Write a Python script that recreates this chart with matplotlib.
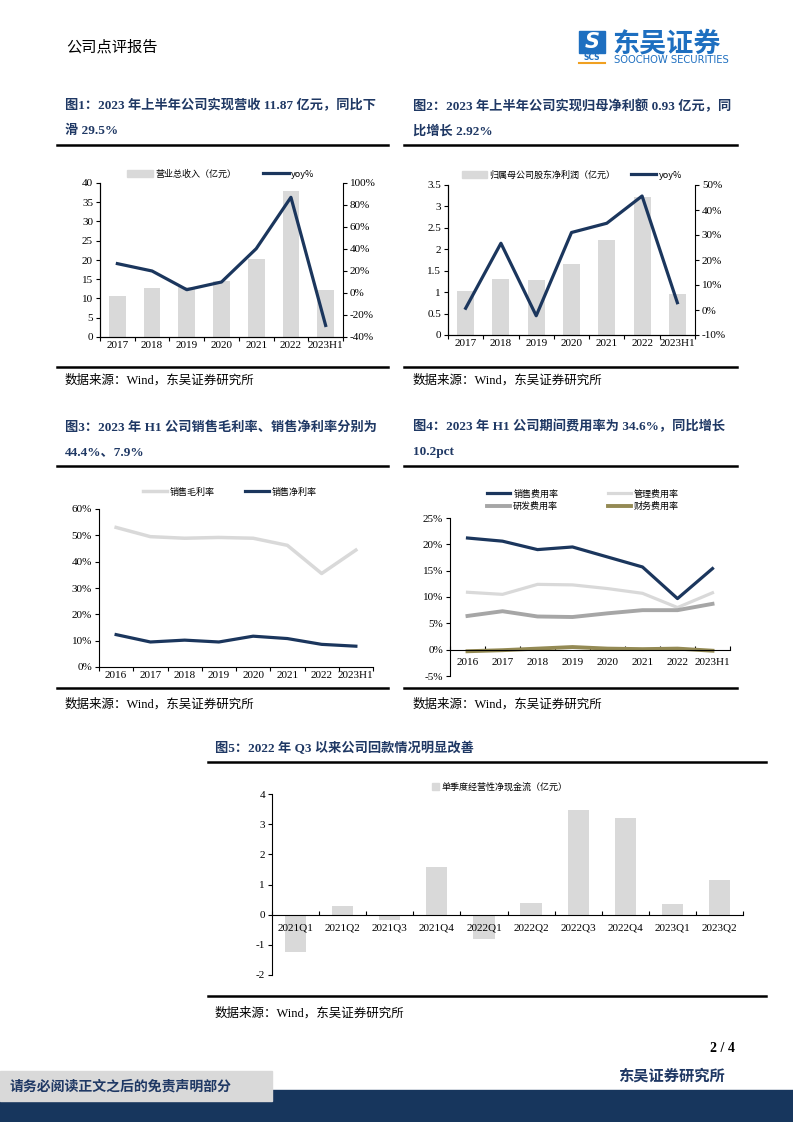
import numpy as np
from matplotlib import pyplot as plt
from matplotlib.lines import Line2D
from matplotlib.patches import Rectangle, Patch
from matplotlib.ticker import FuncFormatter

W, H = 793, 1122
NAVY = '#1f3864'
LINE = '#1b365d'
GREY = '#d9d9d9'
SERIF = ['Liberation Serif', 'Noto Sans CJK SC']
CJK = ['Noto Sans CJK SC', 'DejaVu Sans']
plt.rcParams['font.family'] = SERIF
plt.rcParams['axes.unicode_minus'] = False

# ---- data ----
years1 = ['2017', '2018', '2019', '2020', '2021', '2022', '2023H1']
revenue = [10.6, 12.7, 13.0, 14.6, 20.3, 38.0, 12.1]
revenue_yoy = [26.7, 20.0, 3.0, 10.0, 40.3, 87.0, -29.5]
profit = [1.03, 1.31, 1.28, 1.66, 2.22, 3.22, 0.95]
profit_yoy = [0.7, 26.7, -2.3, 31.0, 34.7, 45.6, 2.92]

years2 = ['2016', '2017', '2018', '2019', '2020', '2021', '2022', '2023H1']
gross_margin = [53.0, 49.5, 48.9, 49.2, 48.9, 46.2, 35.5, 44.4]
net_margin = [12.3, 9.5, 10.2, 9.5, 11.7, 10.8, 8.6, 7.9]
sales_rate = [21.2, 20.6, 19.0, 19.5, 17.6, 15.7, 9.7, 15.4]
admin_rate = [10.9, 10.5, 12.4, 12.3, 11.6, 10.7, 8.0, 10.8]
rd_rate = [6.4, 7.3, 6.3, 6.2, 6.9, 7.5, 7.5, 8.7]
fin_rate = [-0.3, -0.1, 0.2, 0.5, 0.2, 0.1, 0.2, -0.2]

quarters = ['2021Q1', '2021Q2', '2021Q3', '2021Q4', '2022Q1', '2022Q2',
            '2022Q3', '2022Q4', '2023Q1', '2023Q2']
cashflow = [-1.25, 0.3, -0.17, 1.58, -0.8, 0.39, 3.48, 3.2, 0.36, 1.16]

fig = plt.figure(figsize=(W / 100, H / 100), dpi=100)


def box(l, t, r, b):
    return [l / W, 1 - b / H, (r - l) / W, (b - t) / H]


def text(x, y, s, **kw):
    kw.setdefault('va', 'center')
    fig.text(x / W, 1 - y / H, s, **kw)


def rule(x0, x1, y, lw=1.8, color='black'):
    fig.add_artist(Line2D([x0 / W, x1 / W], [1 - y / H] * 2, color=color, lw=lw))


pct = FuncFormatter(lambda v, p: f'{v:.0f}%')
num = FuncFormatter(lambda v, p: f'{v:g}')


def base_axes(ax, n, pad=3):
    ax.set_xlim(-0.5, n - 0.5)
    ax.set_xticks(range(n))
    ax.set_xticks(np.arange(n + 1) - 0.5, minor=True)
    ax.tick_params(axis='x', which='major', length=0, pad=pad, labelsize=8)
    ax.tick_params(axis='x', which='minor', length=3, width=0.8)
    ax.tick_params(axis='y', length=3, width=0.8, labelsize=8, pad=2)
    ax.spines['top'].set_visible(False)
    ax.spines['right'].set_visible(False)
    for s in ax.spines.values():
        s.set_linewidth(0.8)


def legend(ax, handles, labels, x, y, **kw):
    ax.legend(handles, labels, loc='center', bbox_to_anchor=(x / W, 1 - y / H),
              bbox_transform=fig.transFigure, frameon=False,
              prop={'family': CJK, 'size': 6.5}, handletextpad=0.3,
              borderaxespad=0, borderpad=0, **kw)


# ---- header ----
text(66, 47, '公司点评报告', family=CJK, fontsize=11)
fig.add_artist(Rectangle((579 / W, 1 - 53 / H), 26 / W, 22 / H, color='#1e6fc0',
                         transform=fig.transFigure))
text(592, 42, 'S', ha='center', family='DejaVu Sans', fontsize=15,
     fontweight='bold', style='italic', color='white')
text(592, 58, 'SCS', ha='center', family='DejaVu Sans', fontsize=5.5,
     fontweight='bold', color='#1e6fc0')
rule(579, 605, 63, lw=1.5, color='#f0a020')
text(612, 43, '东吴证券', family=CJK, fontsize=19.5, fontweight='bold',
     color='#1e6fc0')
text(614, 60, 'SOOCHOW SECURITIES', family='DejaVu Sans', fontsize=7.2,
     color='#1e6fc0')

# ---- titles, rules and sources ----
tkw = dict(family=SERIF, fontsize=9.5, fontweight='bold', color=NAVY)
text(65, 106, '图1：2023 年上半年公司实现营收 11.87 亿元，同比下', **tkw)
text(65, 131, '滑 29.5%', **tkw)
text(413, 106, '图2：2023 年上半年公司实现归母净利额 0.93 亿元，同', **tkw)
text(413, 131, '比增长 2.92%', **tkw)
text(65, 427, '图3：2023 年 H1 公司销售毛利率、销售净利率分别为', **tkw)
text(65, 452, '44.4%、7.9%', **tkw)
text(413, 427, '图4：2023 年 H1 公司期间费用率为 34.6%，同比增长', **tkw)
text(413, 452, '10.2pct', **tkw)
text(215, 748, '图5：2022 年 Q3 以来公司回款情况明显改善', **tkw)

for x0, x1 in [(57, 388), (404, 737)]:
    rule(x0, x1, 145)
    rule(x0, x1, 367)
    rule(x0, x1, 466)
    rule(x0, x1, 688)
rule(208, 766, 762)
rule(208, 766, 996)

src = '数据来源：Wind，东吴证券研究所'
for x, y in [(65, 380), (413, 380), (65, 704), (413, 704), (215, 1013)]:
    text(x, y, src, family=SERIF, fontsize=9)

# ---- chart 1 ----
ax = fig.add_axes(box(100, 183, 343, 337))
x = np.arange(len(years1))
ax.bar(x, revenue, width=0.48, color=GREY)
base_axes(ax, len(years1))
ax.set_ylim(0, 40)
ax.set_yticks(range(0, 41, 5))
ax.set_xticklabels(years1)
ax2 = ax.twinx()
ax2.plot(x, revenue_yoy, color=LINE, lw=2.3)
ax2.set_ylim(-40, 100)
ax2.set_yticks(range(-40, 101, 20))
ax2.yaxis.set_major_formatter(pct)
ax2.tick_params(axis='y', length=3, width=0.8, labelsize=8, pad=2)
ax2.spines['top'].set_visible(False)
ax2.spines['right'].set_linewidth(0.8)
legend(ax2, [Patch(color=GREY), Line2D([], [], color=LINE, lw=2.3)],
       ['营业总收入（亿元）', 'yoy%'], 221, 174, ncol=2, handlelength=2.8,
       columnspacing=3)

# ---- chart 2 ----
ax = fig.add_axes(box(448, 185, 695, 335))
ax.bar(x, profit, width=0.48, color=GREY)
base_axes(ax, len(years1))
ax.set_ylim(0, 3.5)
ax.set_yticks(np.arange(0, 3.51, 0.5))
ax.yaxis.set_major_formatter(num)
ax.set_xticklabels(years1)
ax2 = ax.twinx()
ax2.plot(x, profit_yoy, color=LINE, lw=2.3)
ax2.set_ylim(-10, 50)
ax2.set_yticks(range(-10, 51, 10))
ax2.yaxis.set_major_formatter(pct)
ax2.tick_params(axis='y', length=3, width=0.8, labelsize=8, pad=2)
ax2.spines['top'].set_visible(False)
ax2.spines['right'].set_linewidth(0.8)
legend(ax2, [Patch(color=GREY), Line2D([], [], color=LINE, lw=2.3)],
       ['归属母公司股东净利润（亿元）', 'yoy%'], 572, 175, ncol=2,
       handlelength=2.8, columnspacing=1.7)

# ---- chart 3 ----
ax = fig.add_axes(box(99, 509, 373, 667))
x = np.arange(len(years2))
l1, = ax.plot(x, gross_margin, color=GREY, lw=2.5)
l2, = ax.plot(x, net_margin, color=LINE, lw=2.3)
base_axes(ax, len(years2))
ax.set_ylim(0, 60)
ax.set_yticks(range(0, 61, 10))
ax.yaxis.set_major_formatter(pct)
ax.set_xticklabels(years2)
legend(ax, [l1, l2], ['销售毛利率', '销售净利率'], 230, 492, ncol=2,
       handlelength=2.6, columnspacing=3.4)

# ---- chart 4 ----
ax = fig.add_axes(box(450, 518, 730, 676))
h1, = ax.plot(x, sales_rate, color=LINE, lw=2.3)
h2, = ax.plot(x, admin_rate, color=GREY, lw=2.3)
h3, = ax.plot(x, rd_rate, color='#a6a6a6', lw=2.8)
h4, = ax.plot(x, fin_rate, color='#948a54', lw=2.8)
base_axes(ax, len(years2), pad=6)
ax.tick_params(axis='x', which='minor', direction='in')
ax.spines['bottom'].set_position(('data', 0))
ax.set_ylim(-5, 25)
ax.set_yticks(range(-5, 26, 5))
ax.yaxis.set_major_formatter(pct)
ax.set_xticklabels(years2)
legend(ax, [h1, h3, h2, h4], ['销售费用率', '研发费用率', '管理费用率', '财务费用率'],
       583, 500, ncol=2, handlelength=2.6, columnspacing=5.5, labelspacing=0.35)

# ---- chart 5 ----
ax = fig.add_axes(box(272, 794, 743, 975))
x = np.arange(len(quarters))
ax.bar(x, cashflow, width=0.45, color=GREY)
base_axes(ax, len(quarters), pad=6)
ax.tick_params(axis='x', which='minor', direction='in')
ax.spines['bottom'].set_position(('data', 0))
ax.set_ylim(-2, 4)
ax.set_yticks(range(-2, 5))
ax.set_xticklabels(quarters)
legend(ax, [Patch(color=GREY)], ['单季度经营性净现金流（亿元）'], 500, 787,
       handlelength=0.8, handleheight=0.8)

# ---- footer ----
text(735, 1048, '2 / 4', ha='right', fontsize=10, fontweight='bold')
text(725, 1076, '东吴证券研究所', ha='right', family=CJK, fontsize=11,
     fontweight='bold', color=NAVY)
fig.add_artist(Rectangle((0, 1 - 1122 / H), 1, 32 / H, color='#17365d',
                         transform=fig.transFigure))
fig.add_artist(Rectangle((0, 1 - 1101 / H), 272 / W, 30 / H, color=GREY,
                         transform=fig.transFigure))
text(10, 1086, '请务必阅读正文之后的免责声明部分', family=CJK, fontsize=10,
     fontweight='bold', color=NAVY)

fig.savefig('out.png', dpi=100)
